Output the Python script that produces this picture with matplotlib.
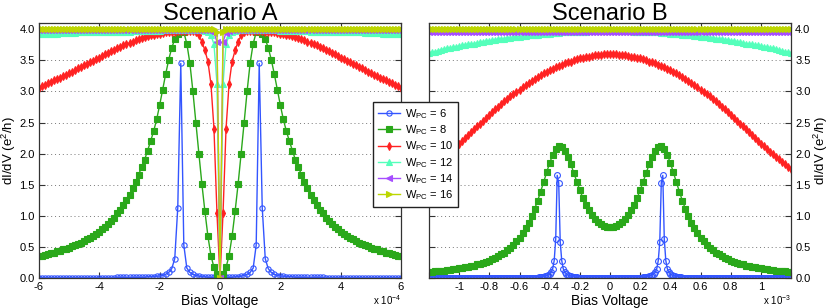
import numpy as np
import matplotlib
matplotlib.use("Agg")
import matplotlib.pyplot as plt
from matplotlib.ticker import FuncFormatter, MultipleLocator

plt.rcParams['font.family'] = ['Liberation Sans', 'DejaVu Sans']
plt.rcParams['axes.unicode_minus'] = False
plt.rcParams['mathtext.fontset'] = 'custom'
plt.rcParams['mathtext.rm'] = 'Liberation Sans'

widths = [6, 8, 10, 12, 14, 16]
colors = ['#3355ff', '#2aa81a', '#ff2222', '#55ffbb', '#a64dff', '#bcd600']
markers = ['o', 's', 'd', '^', '<', '>']

# Scenario A: dI/dV from V=0 outwards, step 1e-5 V (curves are mirror symmetric)
stepA = 1e-5
a_w6 = [0.00, 0.00, 0.01, 0.01, 0.01, 0.02, 0.02, 0.03, 0.04, 0.06,
        0.09, 0.16, 0.53, 3.45, 1.13, 0.31, 0.15, 0.09, 0.06, 0.04,
        0.03, 0.03, 0.02, 0.02, 0.02, 0.01, 0.01, 0.01, 0.01, 0.01,
        0.01, 0.01, 0.01, 0.01, 0.01, 0.00, 0.00, 0.00, 0.00, 0.00] + [0.00] * 21
a_w8 = [0.00, 0.06, 0.17, 0.36, 0.67, 1.07, 1.51, 2.00, 2.50, 3.01,
        3.46, 3.77, 3.95, 3.97, 3.93, 3.84, 3.70, 3.51, 3.28, 3.03,
        2.78, 2.55, 2.36, 2.20, 2.05, 1.90, 1.78, 1.66, 1.55, 1.44,
        1.34, 1.25, 1.17, 1.10, 1.04, 0.97, 0.92, 0.87, 0.82, 0.78,
        0.74, 0.71, 0.68, 0.65, 0.62, 0.59, 0.57, 0.55, 0.53, 0.51,
        0.49, 0.47, 0.46, 0.44, 0.43, 0.41, 0.40, 0.39, 0.37, 0.36,
        0.35]
a_w10 = [0.00, 1.04, 2.40, 3.12, 3.48, 3.66, 3.80, 3.90, 3.95, 3.97,
         3.97, 3.97, 3.97, 3.97, 3.97, 3.96, 3.96, 3.95, 3.95, 3.94,
         3.93, 3.92, 3.91, 3.90, 3.89, 3.87, 3.86, 3.84, 3.82, 3.80,
         3.78, 3.76, 3.74, 3.72, 3.70, 3.67, 3.65, 3.62, 3.60, 3.57,
         3.54, 3.52, 3.49, 3.47, 3.44, 3.42, 3.39, 3.37, 3.34, 3.32,
         3.30, 3.27, 3.25, 3.22, 3.20, 3.18, 3.15, 3.13, 3.11, 3.08,
         3.06]
a_w12 = ([0.00, 3.12, 3.76, 3.90, 3.95, 3.97] + [3.98] * 14 + [3.97] * 10
         + [3.96] * 10 + [3.95] * 8 + [3.94] * 6 + [3.93] * 4 + [3.92] * 3)
a_w14 = [0.00, 3.80, 3.94, 3.97] + [3.98] * 57
a_w16 = [0.00, 3.95, 4.00] + [4.01] * 58

# Scenario B: blue sampled every 1e-5 V, the rest every 2e-5 V
stepB_fine = 1e-5
stepB = 2e-5
b_w6 = ([0.00] * 22
        + [0.01, 0.01, 0.02, 0.02, 0.03, 0.04, 0.05, 0.07, 0.09, 0.15,
           0.28, 0.58, 1.53, 1.65, 0.62, 0.28, 0.15, 0.09, 0.07, 0.05,
           0.04, 0.03, 0.02, 0.02, 0.01, 0.01]
        + [0.00] * 73)
b_w8 = [0.82, 0.82, 0.84, 0.87, 0.90, 0.95, 1.01, 1.09, 1.18, 1.29,
        1.41, 1.55, 1.69, 1.83, 1.95, 2.05, 2.11, 2.12, 2.07, 1.98,
        1.85, 1.70, 1.54, 1.39, 1.24, 1.11, 0.99, 0.89, 0.80, 0.72,
        0.65, 0.59, 0.53, 0.49, 0.45, 0.41, 0.38, 0.35, 0.32, 0.30,
        0.28, 0.26, 0.24, 0.23, 0.22, 0.20, 0.19, 0.18, 0.17, 0.16,
        0.16, 0.15, 0.14, 0.13, 0.13, 0.12, 0.12, 0.11, 0.11, 0.10,
        0.10]
b_w10 = [3.60, 3.60, 3.60, 3.59, 3.59, 3.58, 3.57, 3.56, 3.55, 3.54,
         3.53, 3.52, 3.50, 3.48, 3.47, 3.45, 3.43, 3.41, 3.39, 3.36,
         3.34, 3.31, 3.29, 3.26, 3.23, 3.20, 3.17, 3.13, 3.10, 3.07,
         3.03, 2.99, 2.96, 2.92, 2.88, 2.84, 2.80, 2.75, 2.71, 2.67,
         2.62, 2.57, 2.53, 2.48, 2.44, 2.39, 2.34, 2.30, 2.25, 2.21,
         2.16, 2.12, 2.08, 2.03, 1.99, 1.95, 1.91, 1.87, 1.83, 1.79,
         1.75]
b_w12 = [3.97, 3.97, 3.97, 3.97, 3.97, 3.97, 3.97, 3.97, 3.96, 3.96,
         3.96, 3.96, 3.96, 3.95, 3.95, 3.95, 3.95, 3.94, 3.94, 3.94,
         3.93, 3.93, 3.92, 3.92, 3.91, 3.91, 3.90, 3.90, 3.89, 3.89,
         3.88, 3.88, 3.87, 3.86, 3.86, 3.85, 3.84, 3.84, 3.83, 3.82,
         3.81, 3.81, 3.80, 3.79, 3.78, 3.77, 3.76, 3.76, 3.75, 3.74,
         3.73, 3.72, 3.71, 3.70, 3.69, 3.68, 3.67, 3.65, 3.64, 3.63,
         3.62]
b_w14 = [3.96] * 61
b_w16 = [4.01] * 61


def mirror(half, step):
    h = np.asarray(half)
    y = np.concatenate([h[:0:-1], h])
    n = len(h) - 1
    x = np.arange(-n, n + 1) * step
    return x, y


def style_axes(ax):
    ax.set_ylim(0, 4.1)
    ax.yaxis.set_major_locator(MultipleLocator(0.5))
    ax.yaxis.grid(True, linestyle=(0, (1, 3)), color='#777777', lw=0.7)
    ax.set_axisbelow(True)
    ax.tick_params(direction='in', top=True, right=True, length=4,
                   labelsize=8, pad=3, color='#333333')
    for s in ax.spines.values():
        s.set_color('#333333')
        s.set_linewidth(0.9)
    ax.set_xlabel('Bias Voltage', fontsize=10, labelpad=1)
    ax.set_ylabel('dI/dV (e$^2$/h)', fontsize=9.5, labelpad=1)


def fmt_b(v, p):
    if abs(v) > 1.1e-3:
        return ''
    s = '%g' % round(v * 1e3, 1)
    return '0' if s in ('-0', '0') else s


fig = plt.figure(figsize=(8.31, 3.08), dpi=100)
axA = fig.add_axes([39 / 831, 30 / 308, 362 / 831, 255 / 308])
axB = fig.add_axes([429 / 831, 30 / 308, 362 / 831, 255 / 308])

seriesA = [a_w6, a_w8, a_w10, a_w12, a_w14, a_w16]
for w, c, m, half in zip(widths, colors, markers, seriesA):
    x, y = mirror(half, stepA)
    mfc = 'none' if m == 'o' else c
    axA.plot(x, y, color=c, lw=1.0, marker=m, ms=3.8, mfc=mfc, mec=c,
             mew=0.8, label='W$_\\mathregular{PC}$ = %d' % w)

seriesB = [b_w6, b_w8, b_w10, b_w12, b_w14, b_w16]
stepsB = [stepB_fine, stepB, stepB, stepB, stepB, stepB]
for c, m, half, st in zip(colors, markers, seriesB, stepsB):
    x, y = mirror(half, st)
    mfc = 'none' if m == 'o' else c
    axB.plot(x, y, color=c, lw=1.0, marker=m, ms=4.2, mfc=mfc, mec=c, mew=0.8)

style_axes(axA)
axA.set_xlim(-6e-4, 6e-4)
axA.xaxis.set_major_locator(MultipleLocator(2e-4))
axA.xaxis.set_major_formatter(FuncFormatter(lambda v, p: '%d' % round(v * 1e4)))
axA.text(1.0, -0.105, 'x 10$^{-4}$', transform=axA.transAxes, ha='right',
         va='baseline', fontsize=7)
axA.set_title('Scenario A', fontsize=17, pad=2)

style_axes(axB)
axB.set_xlim(-1.2e-3, 1.2e-3)
axB.xaxis.set_major_locator(MultipleLocator(2e-4))
axB.xaxis.set_major_formatter(FuncFormatter(fmt_b))
axB.tick_params(labelleft=False, labelright=True)
axB.yaxis.set_label_position('right')
axB.text(1.0, -0.105, 'x 10$^{-3}$', transform=axB.transAxes, ha='right',
         va='baseline', fontsize=7)
axB.set_title('Scenario B', fontsize=17, pad=2)

handles, labels = axA.get_legend_handles_labels()
leg = fig.legend(handles, labels, loc='upper left',
                 bbox_to_anchor=(373 / 831, 1 - 102 / 308), fontsize=8,
                 frameon=True, fancybox=False, framealpha=1,
                 edgecolor='#222222', handlelength=2.0, labelspacing=0.22,
                 borderpad=0.45, handletextpad=0.4, borderaxespad=0)
leg.get_frame().set_linewidth(1.0)

fig.savefig('out.png', dpi=100)
